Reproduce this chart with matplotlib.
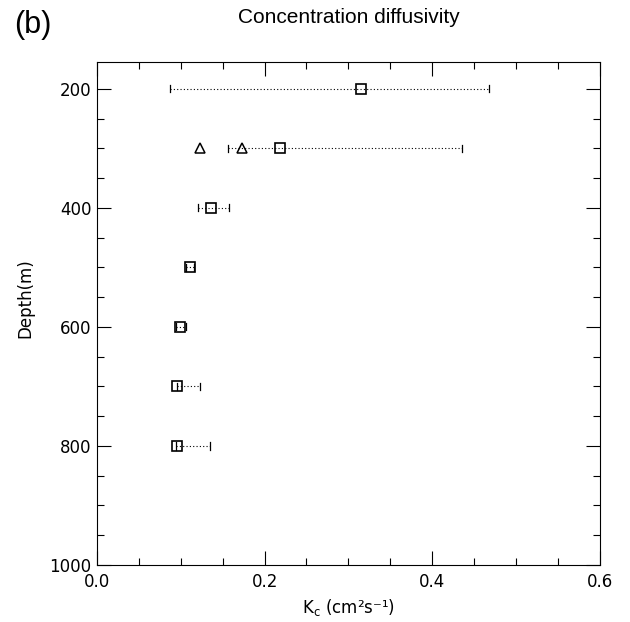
import matplotlib
matplotlib.use("Agg")
import matplotlib.pyplot as plt
from matplotlib.ticker import MultipleLocator

# depth levels (m) and concentration diffusivity estimates (cm^2 s^-1)
depth = [200, 300, 400, 500, 600, 700, 800]
kc = [0.315, 0.218, 0.136, 0.111, 0.099, 0.096, 0.095]
kc_low = [0.087, 0.156, 0.121, 0.106, 0.094, 0.095, 0.094]
kc_high = [0.468, 0.435, 0.158, 0.116, 0.106, 0.123, 0.135]

# extra estimates at 300 m (triangles)
tri_depth = [300, 300]
tri_kc = [0.123, 0.173]

plt.rcParams['font.family'] = ['DejaVu Sans']

fig = plt.figure(figsize=(6.3, 6.22), dpi=100)
ax = fig.add_axes([0.154, 0.0916, 0.798, 0.8087])

for d, k, lo, hi in zip(depth, kc, kc_low, kc_high):
    ax.plot([lo, hi], [d, d], color='k', linestyle=(0, (1, 2)), linewidth=0.8)
    ax.plot([lo, lo], [d - 6, d + 6], color='k', linewidth=0.9)
    ax.plot([hi, hi], [d - 6, d + 6], color='k', linewidth=0.9)

ax.plot(kc, depth, linestyle='none', marker='s', markersize=7,
        markerfacecolor='none', markeredgecolor='k', markeredgewidth=1.2)
ax.plot(tri_kc, tri_depth, linestyle='none', marker='^', markersize=7,
        markerfacecolor='none', markeredgecolor='k', markeredgewidth=1.1)

ax.set_xlim(0, 0.6)
ax.set_ylim(1000, 155)
ax.set_xticks([0.0, 0.2, 0.4, 0.6])
ax.set_xticklabels(['0.0', '0.2', '0.4', '0.6'])
ax.set_yticks([200, 400, 600, 800, 1000])
ax.xaxis.set_minor_locator(MultipleLocator(0.05))
ax.yaxis.set_minor_locator(MultipleLocator(50))
ax.tick_params(which='both', direction='in', top=True, right=True,
               labelsize=12, width=0.8, pad=4)
ax.tick_params(axis='x', pad=6)
ax.tick_params(which='major', length=10)
ax.tick_params(which='minor', length=5)
for s in ax.spines.values():
    s.set_linewidth(0.8)

ax.set_xlabel('K$_\\mathrm{c}$ (cm²s⁻¹)', fontsize=12, labelpad=4)
ax.set_ylabel('Depth(m)', fontsize=12)
ax.yaxis.set_label_coords(-0.125, 0.53)

fig.text(0.553, 0.972, 'Concentration diffusivity', fontsize=15,
         family='Liberation Sans', ha='center', va='center')
fig.text(0.022, 0.96, '(b)', fontsize=22, family='Liberation Sans',
         va='center')

fig.savefig('out.png', dpi=100)
